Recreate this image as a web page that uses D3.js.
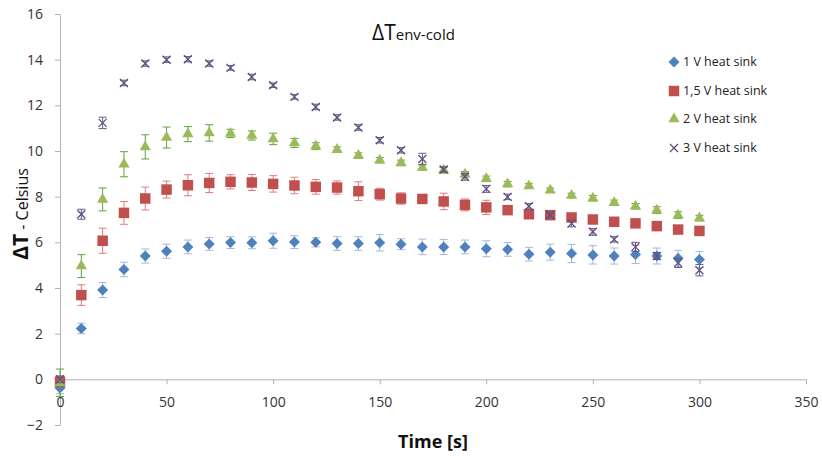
<!DOCTYPE html>
<html lang="en">
<head>
<meta charset="UTF-8">
<title>ΔT env-cold</title>
<script src="https://d3js.org/d3.v7.min.js"></script>
<style>
  body { margin: 0; background: #fff; }
  svg { font-family: "Open Sans", "Noto Sans", sans-serif; }
</style>
</head>
<body>
<svg id="chart" width="822" height="457"></svg>
<script>
// time in seconds
var times = [0,10,20,30,40,50,60,70,80,90,100,110,120,130,140,150,160,170,180,190,200,210,220,230,240,250,260,270,280,290,300];

var v1 = [-0.38,2.23,3.91,4.81,5.4,5.61,5.8,5.93,5.99,5.98,6.07,6.01,6.0,5.95,5.95,5.98,5.92,5.8,5.8,5.8,5.72,5.69,5.48,5.57,5.51,5.45,5.4,5.47,5.4,5.3,5.25];
var e1 = [0.25,0.23,0.33,0.32,0.31,0.31,0.3,0.28,0.26,0.26,0.33,0.28,0.2,0.3,0.3,0.36,0.24,0.34,0.33,0.3,0.35,0.3,0.3,0.35,0.4,0.4,0.35,0.4,0.35,0.35,0.35];

var v15 = [-0.1,3.69,6.07,7.29,7.92,8.31,8.5,8.6,8.65,8.62,8.56,8.49,8.43,8.4,8.24,8.11,7.92,7.9,7.79,7.64,7.53,7.41,7.23,7.19,7.09,7.0,6.9,6.83,6.71,6.56,6.5];
var e15 = [0.2,0.45,0.55,0.5,0.5,0.37,0.46,0.42,0.31,0.35,0.36,0.36,0.32,0.29,0.41,0.26,0.25,0.1,0.36,0.26,0.31,0.15,0.15,0.15,0.15,0.15,0.12,0.12,0.12,0.12,0.12];

var v2 = [-0.15,4.96,7.88,9.42,10.18,10.59,10.74,10.79,10.77,10.68,10.53,10.35,10.21,10.06,9.8,9.6,9.48,9.28,9.16,8.98,8.78,8.55,8.47,8.28,8.05,7.93,7.73,7.58,7.41,7.19,7.06];
var e2 = [0.6,0.5,0.5,0.55,0.53,0.46,0.33,0.36,0.18,0.2,0.25,0.2,0.15,0.12,0.12,0.12,0.12,0.12,0.12,0.12,0.12,0.12,0.1,0.1,0.1,0.12,0.12,0.12,0.15,0.15,0.12];

var v3 = [0.0,7.23,11.23,12.98,13.83,14.0,14.02,13.83,13.64,13.24,12.88,12.37,11.93,11.47,11.03,10.47,10.03,9.65,9.19,8.87,8.34,7.99,7.58,7.2,6.83,6.46,6.13,5.8,5.4,5.1,4.78];
var e3 = [0.15,0.22,0.25,0.12,0.12,0.12,0.12,0.12,0.1,0.12,0.1,0.1,0.12,0.12,0.12,0.12,0.12,0.25,0.12,0.15,0.15,0.12,0.12,0.12,0.15,0.15,0.12,0.2,0.15,0.2,0.25];

var seriesNames = ["1 V heat sink", "1,5 V heat sink", "2 V heat sink", "3 V heat sink"];
var yTicks = [-2,0,2,4,6,8,10,12,14,16];
var xTicks = [0,50,100,150,200,250,300,350];

var series = [
  { name: seriesNames[0], vals: v1, errs: e1, fill: "#4F81BD", bar: "#9fb9dc", shape: "diamond" },
  { name: seriesNames[1], vals: v15, errs: e15, fill: "#C0504D", bar: "#e8797a", shape: "square" },
  { name: seriesNames[2], vals: v2, errs: e2, fill: "#9BBB59", bar: "#5da33f", shape: "triangle" },
  { name: seriesNames[3], vals: v3, errs: e3, fill: "#5f4d7e", bar: "#6a5a86", shape: "x" }
];

var svg = d3.select("#chart");

var x = d3.scaleLinear().domain([0, 350]).range([60, 806]);
var y = d3.scaleLinear().domain([-2, 16]).range([425, 14]);

var axisColor = "#b3b3b3";

// y axis
var gy = svg.append("g")
  .attr("transform", "translate(" + x(0) + ",0)")
  .call(d3.axisLeft(y).tickValues(yTicks).tickSize(5).tickSizeOuter(0).tickPadding(12).tickFormat(d3.format("d")));

// x axis sitting on y = 0
var gx = svg.append("g")
  .attr("transform", "translate(0," + y(0) + ")")
  .call(d3.axisBottom(x).tickValues(xTicks).tickSize(5).tickSizeOuter(0).tickPadding(13).tickFormat(d3.format("d")));

[gx, gy].forEach(function(g) {
  g.select(".domain").attr("stroke", axisColor);
  g.selectAll(".tick line").attr("stroke", axisColor);
  g.selectAll(".tick text").attr("fill", "#333").style("font-size", "14px")
    .style("font-family", "'Open Sans', sans-serif");
});

// marker shapes
function markerPath(shape) {
  if (shape === "diamond") return "M0,-5.5L5.5,0L0,5.5L-5.5,0Z";
  if (shape === "square") return d3.symbol().type(d3.symbolSquare).size(110)();
  if (shape === "triangle") return d3.symbol().type(d3.symbolTriangle).size(55)();
  return "M-4,-4L4,4M-4,4L4,-4";
}

function drawMarker(sel, s) {
  if (s.shape === "x") {
    sel.attr("d", markerPath(s.shape)).attr("fill", "none")
      .attr("stroke", s.fill).attr("stroke-width", 1.3);
  } else {
    sel.attr("d", markerPath(s.shape)).attr("fill", s.fill);
  }
}

series.forEach(function(s) {
  var g = svg.append("g");
  var pts = times.map(function(t, i) { return { t: t, v: s.vals[i], e: s.errs[i] }; });

  var bars = g.selectAll("g.err").data(pts).enter().append("g")
    .attr("stroke", s.bar).attr("stroke-width", 1).attr("fill", "none");
  bars.append("line")
    .attr("x1", function(d) { return x(d.t); })
    .attr("x2", function(d) { return x(d.t); })
    .attr("y1", function(d) { return y(d.v + d.e); })
    .attr("y2", function(d) { return y(d.v - d.e); });
  [1, -1].forEach(function(sign) {
    bars.append("line")
      .attr("x1", function(d) { return x(d.t) - 4; })
      .attr("x2", function(d) { return x(d.t) + 4; })
      .attr("y1", function(d) { return y(d.v + sign * d.e); })
      .attr("y2", function(d) { return y(d.v + sign * d.e); });
  });

  g.selectAll("path.mk").data(pts).enter().append("path")
    .attr("transform", function(d) { return "translate(" + x(d.t) + "," + y(d.v) + ")"; })
    .call(drawMarker, s);
});

// title
var title = svg.append("text").attr("x", 372).attr("y", 40).attr("fill", "#111");
title.append("tspan").style("font-size", "21px").text("ΔT");
title.append("tspan").style("font-size", "15px").text("env-cold");

// axis titles
svg.append("text")
  .attr("x", 433).attr("y", 448)
  .attr("text-anchor", "middle")
  .style("font-size", "18px").style("font-weight", "bold")
  .attr("fill", "#111")
  .text("Time [s]");

var yt = svg.append("text")
  .attr("transform", "translate(28,214) rotate(-90)")
  .attr("text-anchor", "middle")
  .attr("fill", "#111");
yt.append("tspan").style("font-size", "21px").style("font-weight", "bold").text("ΔT");
yt.append("tspan").style("font-size", "16px").text(" - Celsius");

// legend
var legend = svg.append("g");
var legY = [62, 91, 119, 148];
series.forEach(function(s, i) {
  var row = legend.append("g").attr("transform", "translate(674," + legY[i] + ")");
  row.append("path").call(drawMarker, s);
  row.append("text").attr("x", 9).attr("dy", "0.35em")
    .style("font-size", "12.5px").attr("fill", "#222")
    .text(s.name);
});
</script>
</body>
</html>
